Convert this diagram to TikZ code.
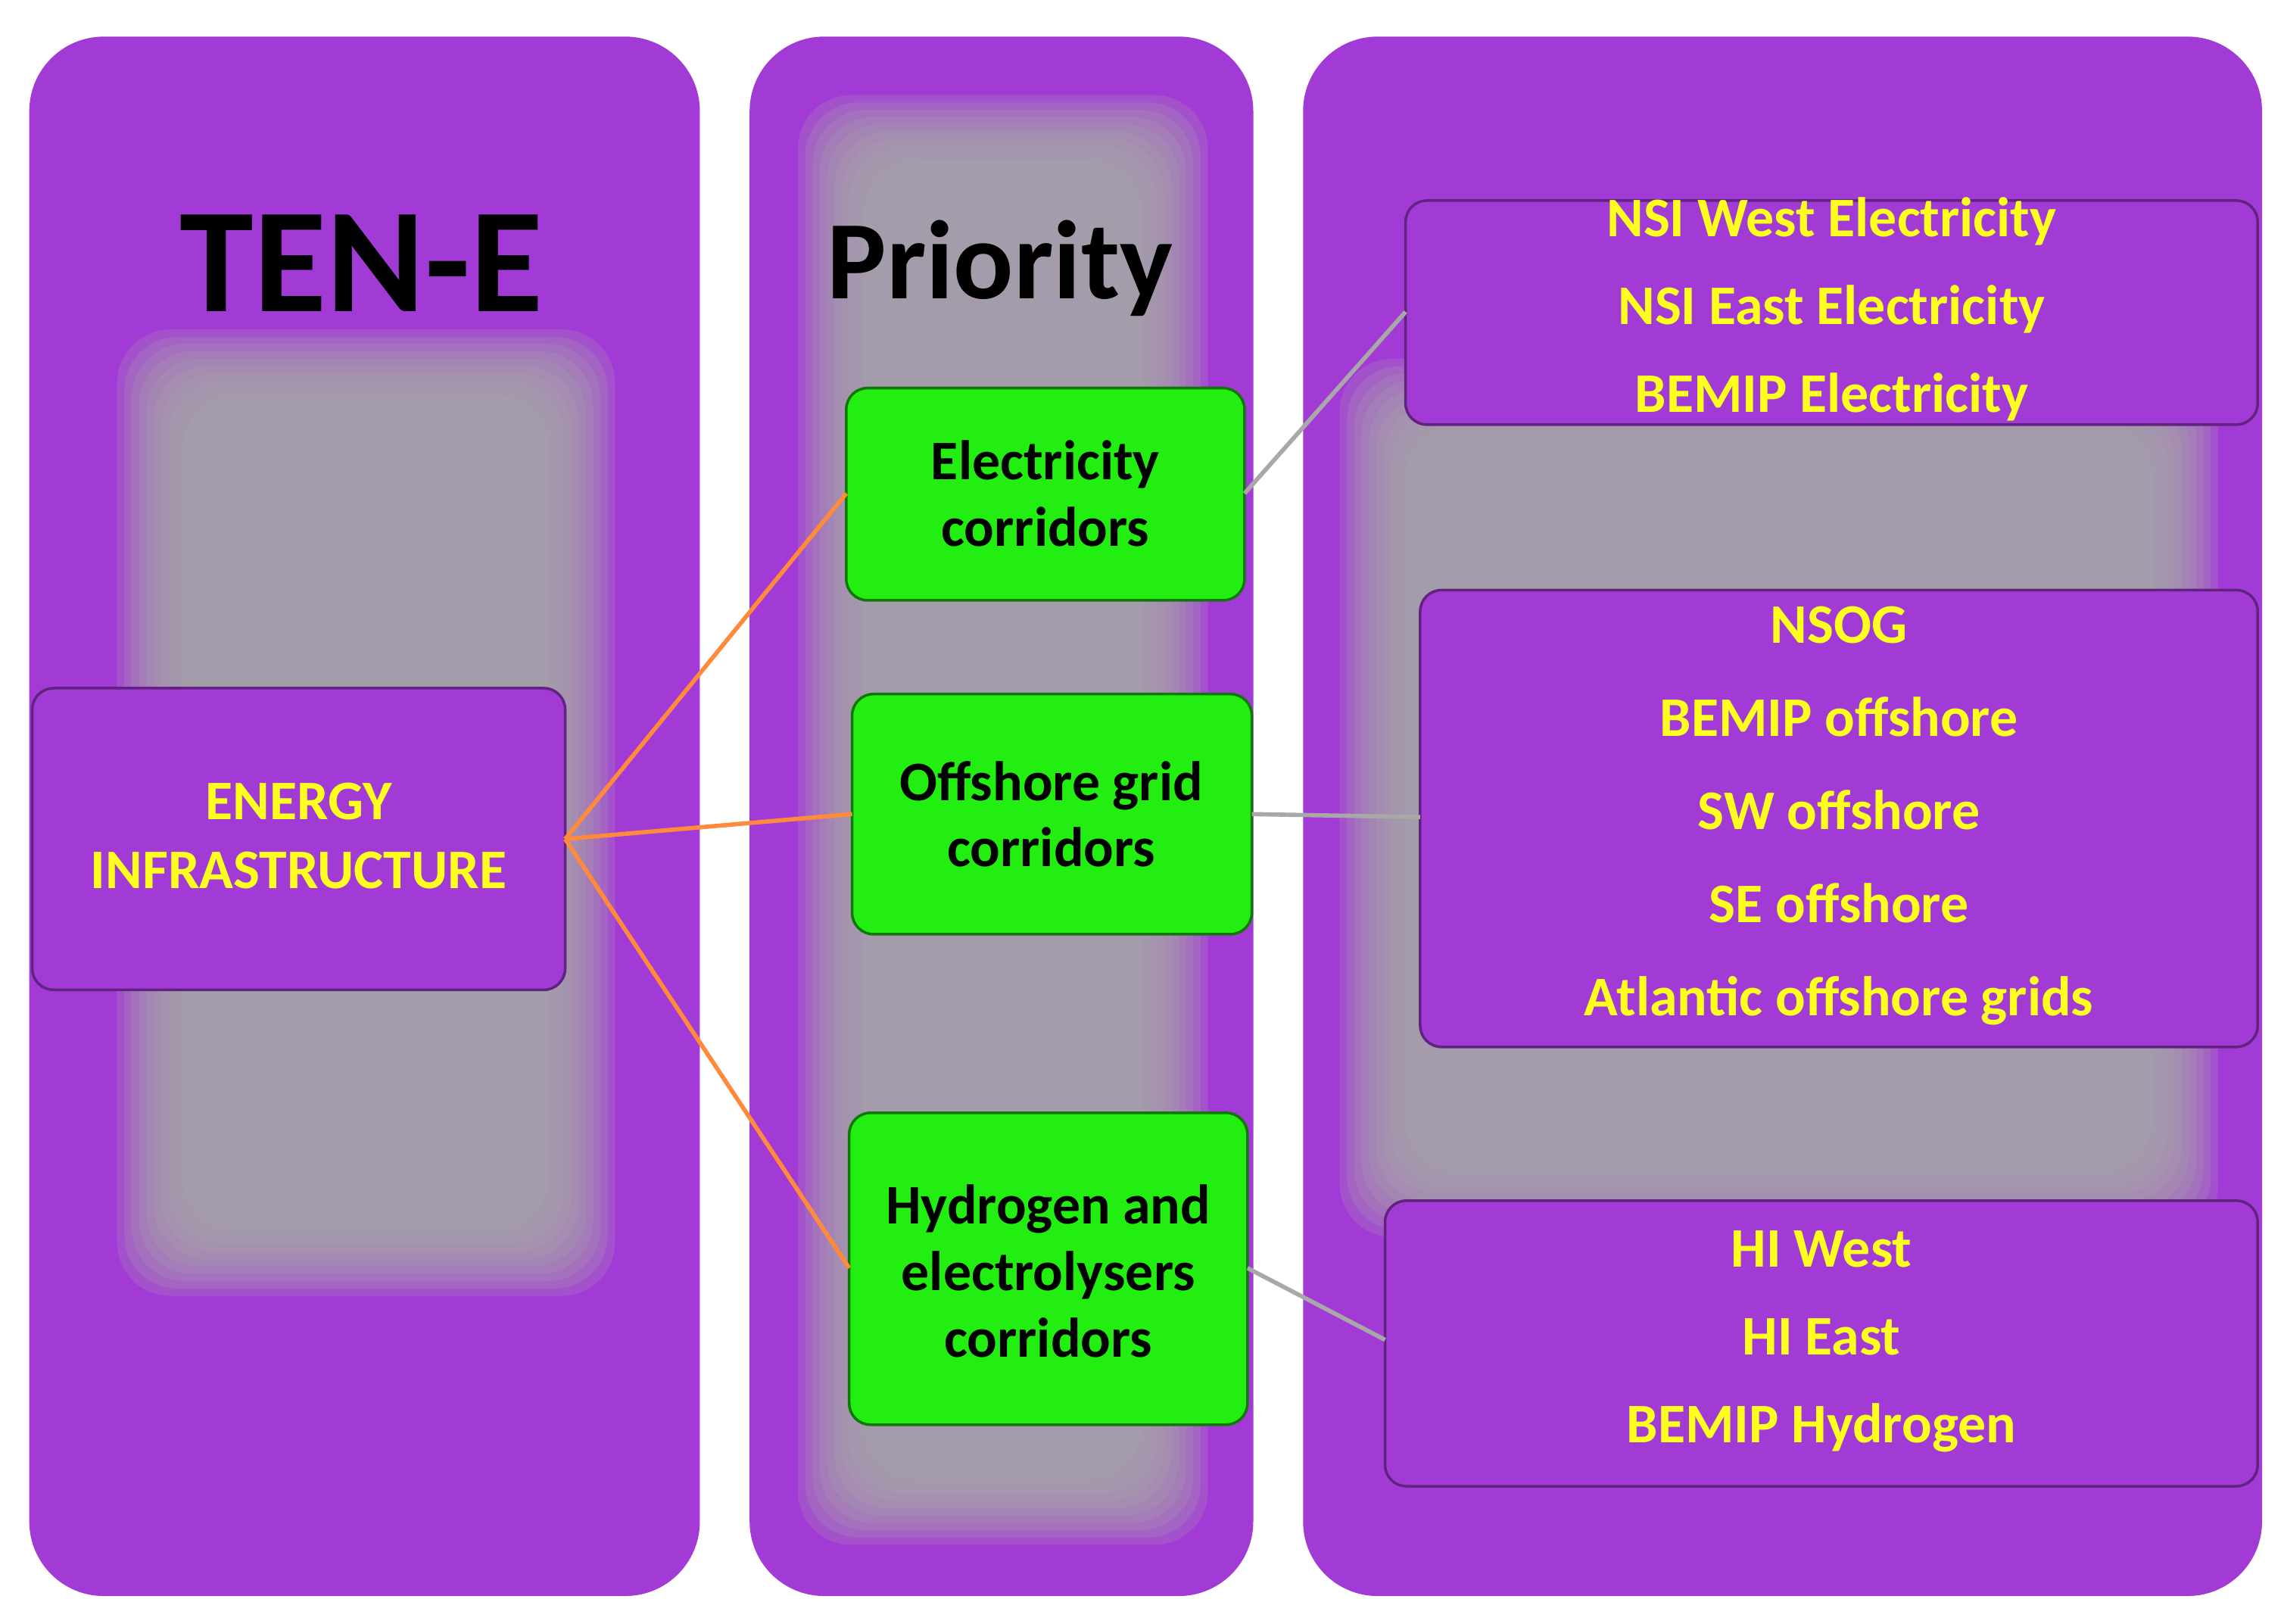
\documentclass[tikz,border=0pt]{standalone}
\usepackage{fontspec}
\setmainfont{Carlito}
\definecolor{pur}{HTML}{A23BD6}
\definecolor{grn}{HTML}{22EE11}
\definecolor{yel}{HTML}{FFFF1E}
\definecolor{gry}{HTML}{A8A8A8}
\definecolor{org}{HTML}{FF8A3C}
\begin{document}
\begin{tikzpicture}[x=0.01934cm,y=-0.01934cm,
 panel/.style={fill=pur,draw=none,rounded corners=28pt},
 pbox/.style={fill=pur,draw=pur!60!black,line width=1pt,rounded corners=8pt},
 gbox/.style={fill=grn,draw=grn!50!black,line width=1pt,rounded corners=8pt},
 ytxt/.style={text=yel,font=\fontsize{21}{33}\selectfont\bfseries,align=center},
 btxt/.style={text=black,font=\fontsize{21}{25}\selectfont\bfseries,align=center},
 oline/.style={org,line width=1.6pt},
 gline/.style={gry,line width=1.6pt}]
\useasboundingbox (0,0) rectangle (1560,1109);
\fill[white] (0,0) rectangle (1560,1109);
\newcommand{\glow}[4]{%
 \foreach \i in {0,...,9}{\fill[gry,opacity=0.22,rounded corners=20pt] ({#1-45+5*\i},{#2-45+5*\i}) rectangle ({#3+45-5*\i},{#4+45-5*\i});}}
% panels
\fill[panel] (20,25) rectangle (478,1090);
\fill[panel] (512,25) rectangle (856,1090);
\fill[panel] (890,25) rectangle (1545,1090);
\glow{125}{270}{375}{840}
\glow{590}{110}{780}{1010}
\glow{960}{290}{1470}{800}
\node[font=\fontsize{56}{60}\selectfont\bfseries] (ten) at (247,180) {TEN-E};
\node[font=\fontsize{42}{46}\selectfont\bfseries] (pri) at (683,183) {Priority};
% boxes
\path[pbox] (22,470) rectangle (386,676);
\coordinate (eiR) at (386,573);
\node[ytxt,font=\fontsize{21}{26}\selectfont\bfseries] (eit) at (204,571) {ENERGY\\INFRASTRUCTURE};
\path[gbox] (578,265) rectangle (850,410);
\node[btxt] (g1) at (714,337) {Electricity\\corridors};
\path[gbox] (582,474) rectangle (855,638);
\node[btxt] (g2) at (718,556) {Offshore grid\\corridors};
\path[gbox] (580,760) rectangle (852,973);
\node[btxt] (g3) at (716,868) {Hydrogen and\\electrolysers\\corridors};
\coordinate (g1L) at (578,337); \coordinate (g1R) at (850,337);
\coordinate (g2L) at (582,556); \coordinate (g2R) at (855,556);
\coordinate (g3L) at (580,866); \coordinate (g3R) at (852,866);
\path[pbox] (960,137) rectangle (1542,290);
\node[ytxt] (r1) at (1251,211) {NSI West Electricity\\NSI East Electricity\\BEMIP Electricity};
\path[pbox] (970,403) rectangle (1542,715);
\node[ytxt,font=\fontsize{21}{35}\selectfont\bfseries] (r2) at (1256,557) {NSOG\\BEMIP offshore\\SW offshore\\SE offshore\\Atlantic offshore grids};
\path[pbox] (946,820) rectangle (1542,1015);
\node[ytxt] (r3) at (1244,916) {HI West\\HI East\\BEMIP Hydrogen};
\coordinate (r1L) at (960,213); \coordinate (r2L) at (970,558); \coordinate (r3L) at (946,915);
% connectors
\draw[oline] (eiR) -- (g1L);
\draw[oline] (eiR) -- (g2L);
\draw[oline] (eiR) -- (g3L);
\draw[gline] (g1R) -- (r1L);
\draw[gline] (g2R) -- (r2L);
\draw[gline] (g3R) -- (r3L);
\end{tikzpicture}
\end{document}
